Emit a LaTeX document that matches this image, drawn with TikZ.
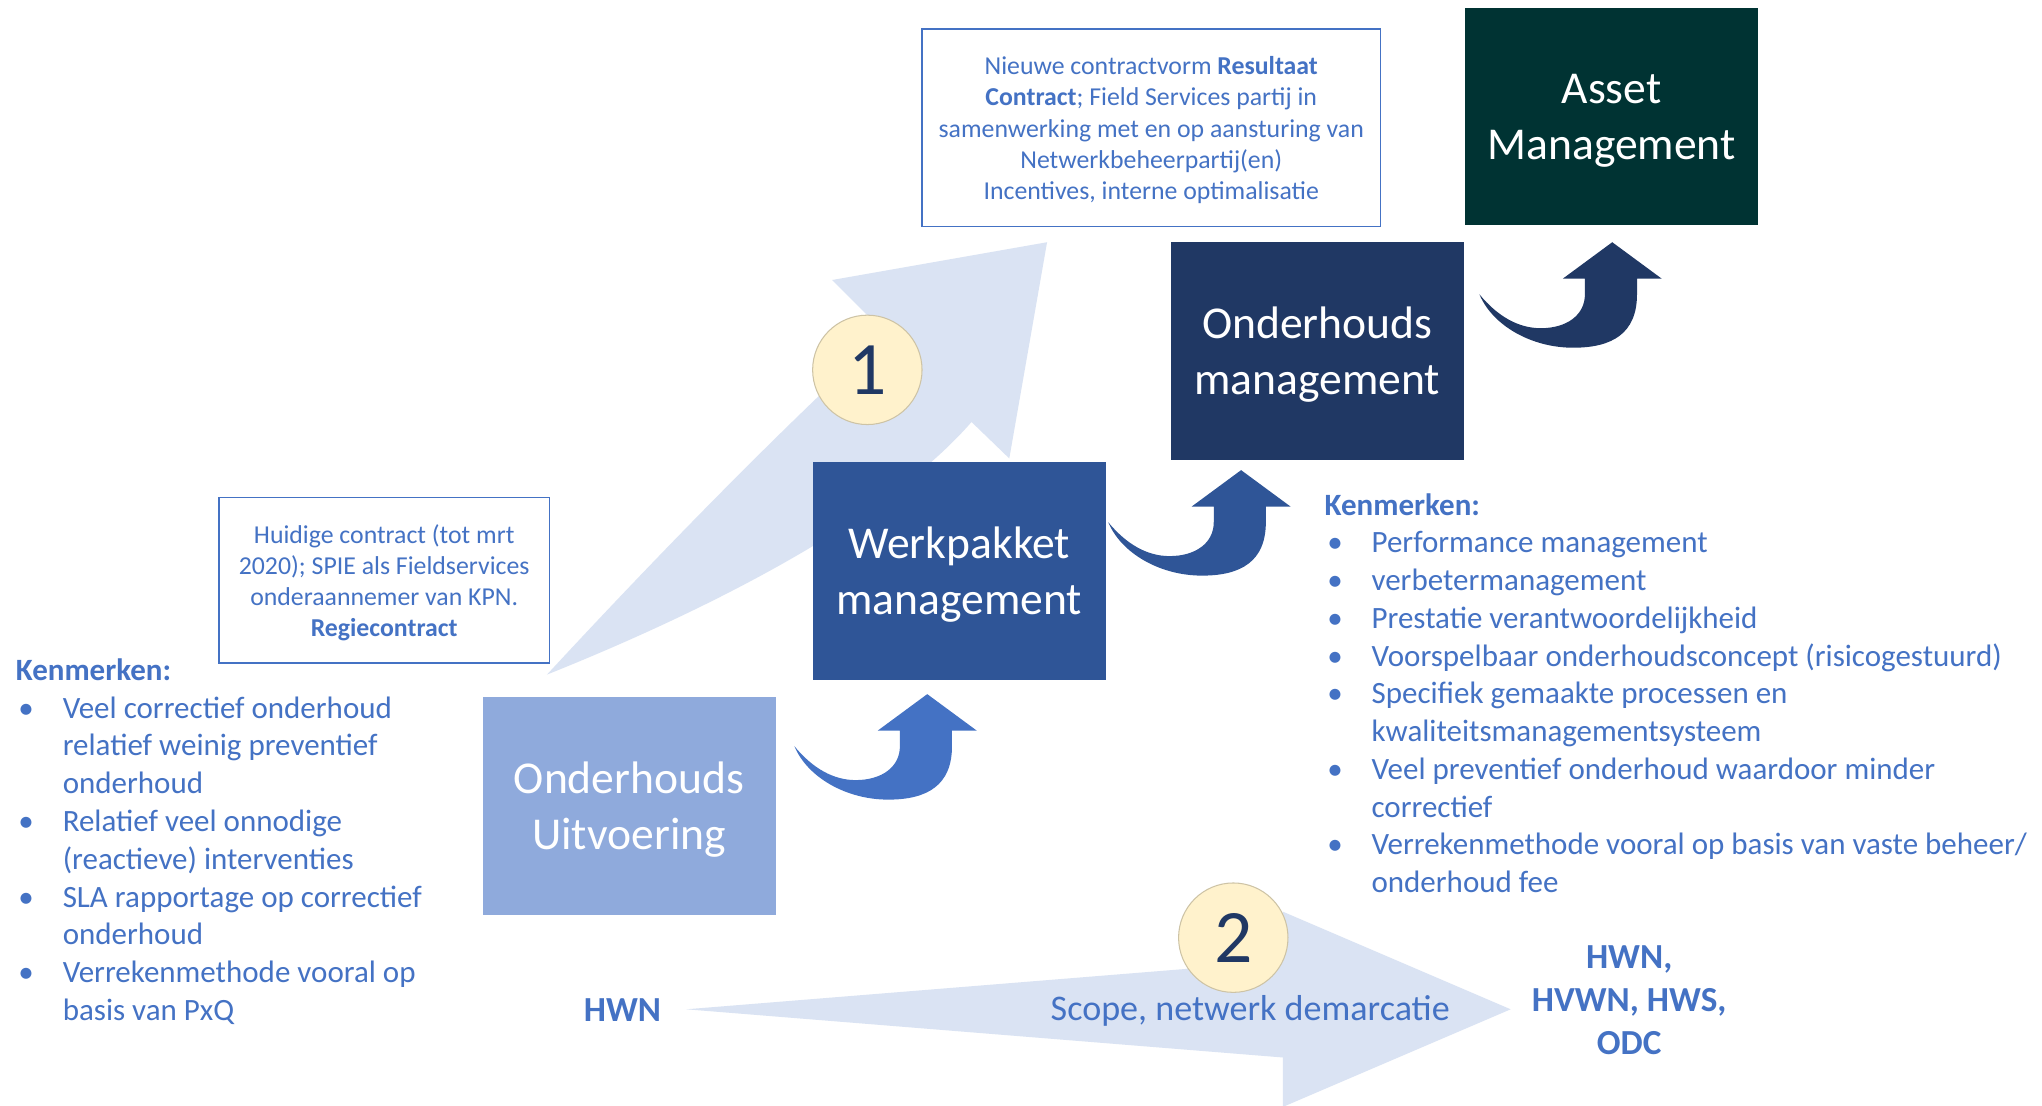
\documentclass[tikz,border=0pt]{standalone}
\usepackage{fontspec}
\setmainfont{Carlito}
\definecolor{kblue}{RGB}{68,114,196}
\definecolor{navy}{RGB}{32,56,100}
\definecolor{midblue}{RGB}{47,85,151}
\definecolor{lightbox}{RGB}{143,170,220}
\definecolor{tealbox}{RGB}{0,51,51}
\definecolor{pale}{RGB}{218,227,243}
\definecolor{cream}{RGB}{255,242,204}
\definecolor{creamline}{RGB}{205,195,165}
\begin{document}
\begin{tikzpicture}[x=1pt,y=-1pt,
  stage/.style={inner sep=0pt, minimum width=225pt, minimum height=167pt},
  stagetxt/.style={inner sep=0pt, align=center, text=white, font=\fontsize{35}{43}\selectfont},
  infobox/.style={draw=kblue, line width=1.3pt, fill=white, inner sep=0pt},
  infotxt/.style={inner sep=0pt, align=center, text=kblue, font=\fontsize{19.8}{24}\selectfont},
  numcirc/.style={circle, minimum size=84pt, inner sep=0pt, fill=cream, draw=creamline,
    line width=0.8pt, text=navy, font=\fontsize{58}{60}\selectfont},
  listtxt/.style={anchor=north west, inner sep=0pt, text=kblue, font=\fontsize{23.8}{29}\selectfont},
  scopetxt/.style={text=kblue, font=\bfseries\fontsize{27}{33}\selectfont, align=center, inner sep=0pt},
  cuparrow/.pic={\path[pic actions] (0,0) -- (38,28) -- (19,28) -- (19,40)
     .. controls (19,70) and (0,81) .. (-30,81)
     .. controls (-62,81) and (-92,64) .. (-102,40)
     .. controls (-88,57) and (-72,66) .. (-55,66)
     .. controls (-35,66) and (-21,56) .. (-21,40) -- (-21,28) -- (-38,28) -- cycle;}
]
\useasboundingbox (0,0) rectangle (1568,849);
\fill[white] (0,0) rectangle (1568,849);

% big curved arrow 1
\coordinate (t1) at (420,518);
\coordinate (n1) at (680,256);
\coordinate (n2) at (746,324);
\fill[pale] (t1) .. controls (520,410) and (610,320) .. (n1) -- (639,215) -- (804,186) -- (775,352) -- (n2)
  .. controls (680,400) and (540,470) .. (t1) -- cycle;

% big arrow 2
\fill[pale] (527,775) -- (985,738) -- (985,700) -- (1160,775) -- (985,850) -- (985,812) -- cycle;

% stage boxes
\node[stage, fill=lightbox] (uit) at (483,619) {};
\node[stagetxt] (uitt) at ([yshift=-3pt]uit.center) {Onderhouds\\Uitvoering};
\node[stage, fill=midblue] (wp) at (736.5,438.5) {};
\node[stagetxt] (wpt) at ([yshift=-3pt]wp.center) {Werkpakket\\management};
\node[stage, fill=navy] (om) at (1011.5,269.5) {};
\node[stagetxt] (omt) at ([yshift=-3pt]om.center) {Onderhouds\\management};
\node[stage, fill=tealbox] (am) at (1237.5,89.5) {};
\node[stagetxt] (amt) at ([yshift=-3pt]am.center) {Asset\\Management};

% curved up arrows
\pic[fill=kblue] at (712,533) {cuparrow};
\pic[fill=midblue] at (953,361) {cuparrow};
\pic[fill=navy] at (1238,186) {cuparrow};

% circles
\node[numcirc] (c1) at (666,284) {1};
\node[numcirc] (c2) at (947,720) {2};

% info boxes
\node[infobox, minimum width=352pt, minimum height=152pt] (newc) at (884,98) {};
\node[infotxt] (newct) at ([yshift=-2pt]newc.center)
  {Nieuwe contractvorm \textbf{Resultaat}\\\textbf{Contract}; Field Services partij in\\samenwerking met en op aansturing van\\Netwerkbeheerpartij(en)\\Incentives, interne optimalisatie};
\node[infobox, minimum width=254pt, minimum height=127pt] (curc) at (295,445.5) {};
\node[infotxt] (curct) at ([yshift=-2pt]curc.center)
  {Huidige contract (tot mrt\\2020); SPIE als Fieldservices\\onderaannemer van KPN.\\\textbf{Regiecontract}};

% lists
\node[listtxt] (kl) at (12,502) {\begin{tabular}{@{}p{36pt}@{}l@{}}
\multicolumn{2}{@{}l@{}}{\textbf{Kenmerken:}}\\
\hspace{2pt}• & Veel correctief onderhoud\\
 & relatief weinig preventief\\
 & onderhoud\\
\hspace{2pt}• & Relatief veel onnodige\\
 & (reactieve) interventies\\
\hspace{2pt}• & SLA rapportage op correctief\\
 & onderhoud\\
\hspace{2pt}• & Verrekenmethode vooral op\\
 & basis van PxQ
\end{tabular}};
\node[listtxt] (kr) at (1017,375) {\begin{tabular}{@{}p{36pt}@{}l@{}}
\multicolumn{2}{@{}l@{}}{\textbf{Kenmerken:}}\\
\hspace{2pt}• & Performance management\\
\hspace{2pt}• & verbetermanagement\\
\hspace{2pt}• & Prestatie verantwoordelijkheid\\
\hspace{2pt}• & Voorspelbaar onderhoudsconcept (risicogestuurd)\\
\hspace{2pt}• & Specifiek gemaakte processen en\\
 & kwaliteitsmanagementsysteem\\
\hspace{2pt}• & Veel preventief onderhoud waardoor minder\\
 & correctief\\
\hspace{2pt}• & Verrekenmethode vooral op basis van vaste beheer/\\
 & onderhoud fee
\end{tabular}};

% scope texts
\node[scopetxt] (hwn) at (478,776) {HWN};
\node[scopetxt] (hwn2) at (1251,768) {HWN,\\HVWN, HWS,\\ODC};
\node[text=kblue, font=\fontsize{27.7}{33}\selectfont, inner sep=0pt] (scope) at (960,776) {Scope, netwerk demarcatie};
\end{tikzpicture}
\end{document}
